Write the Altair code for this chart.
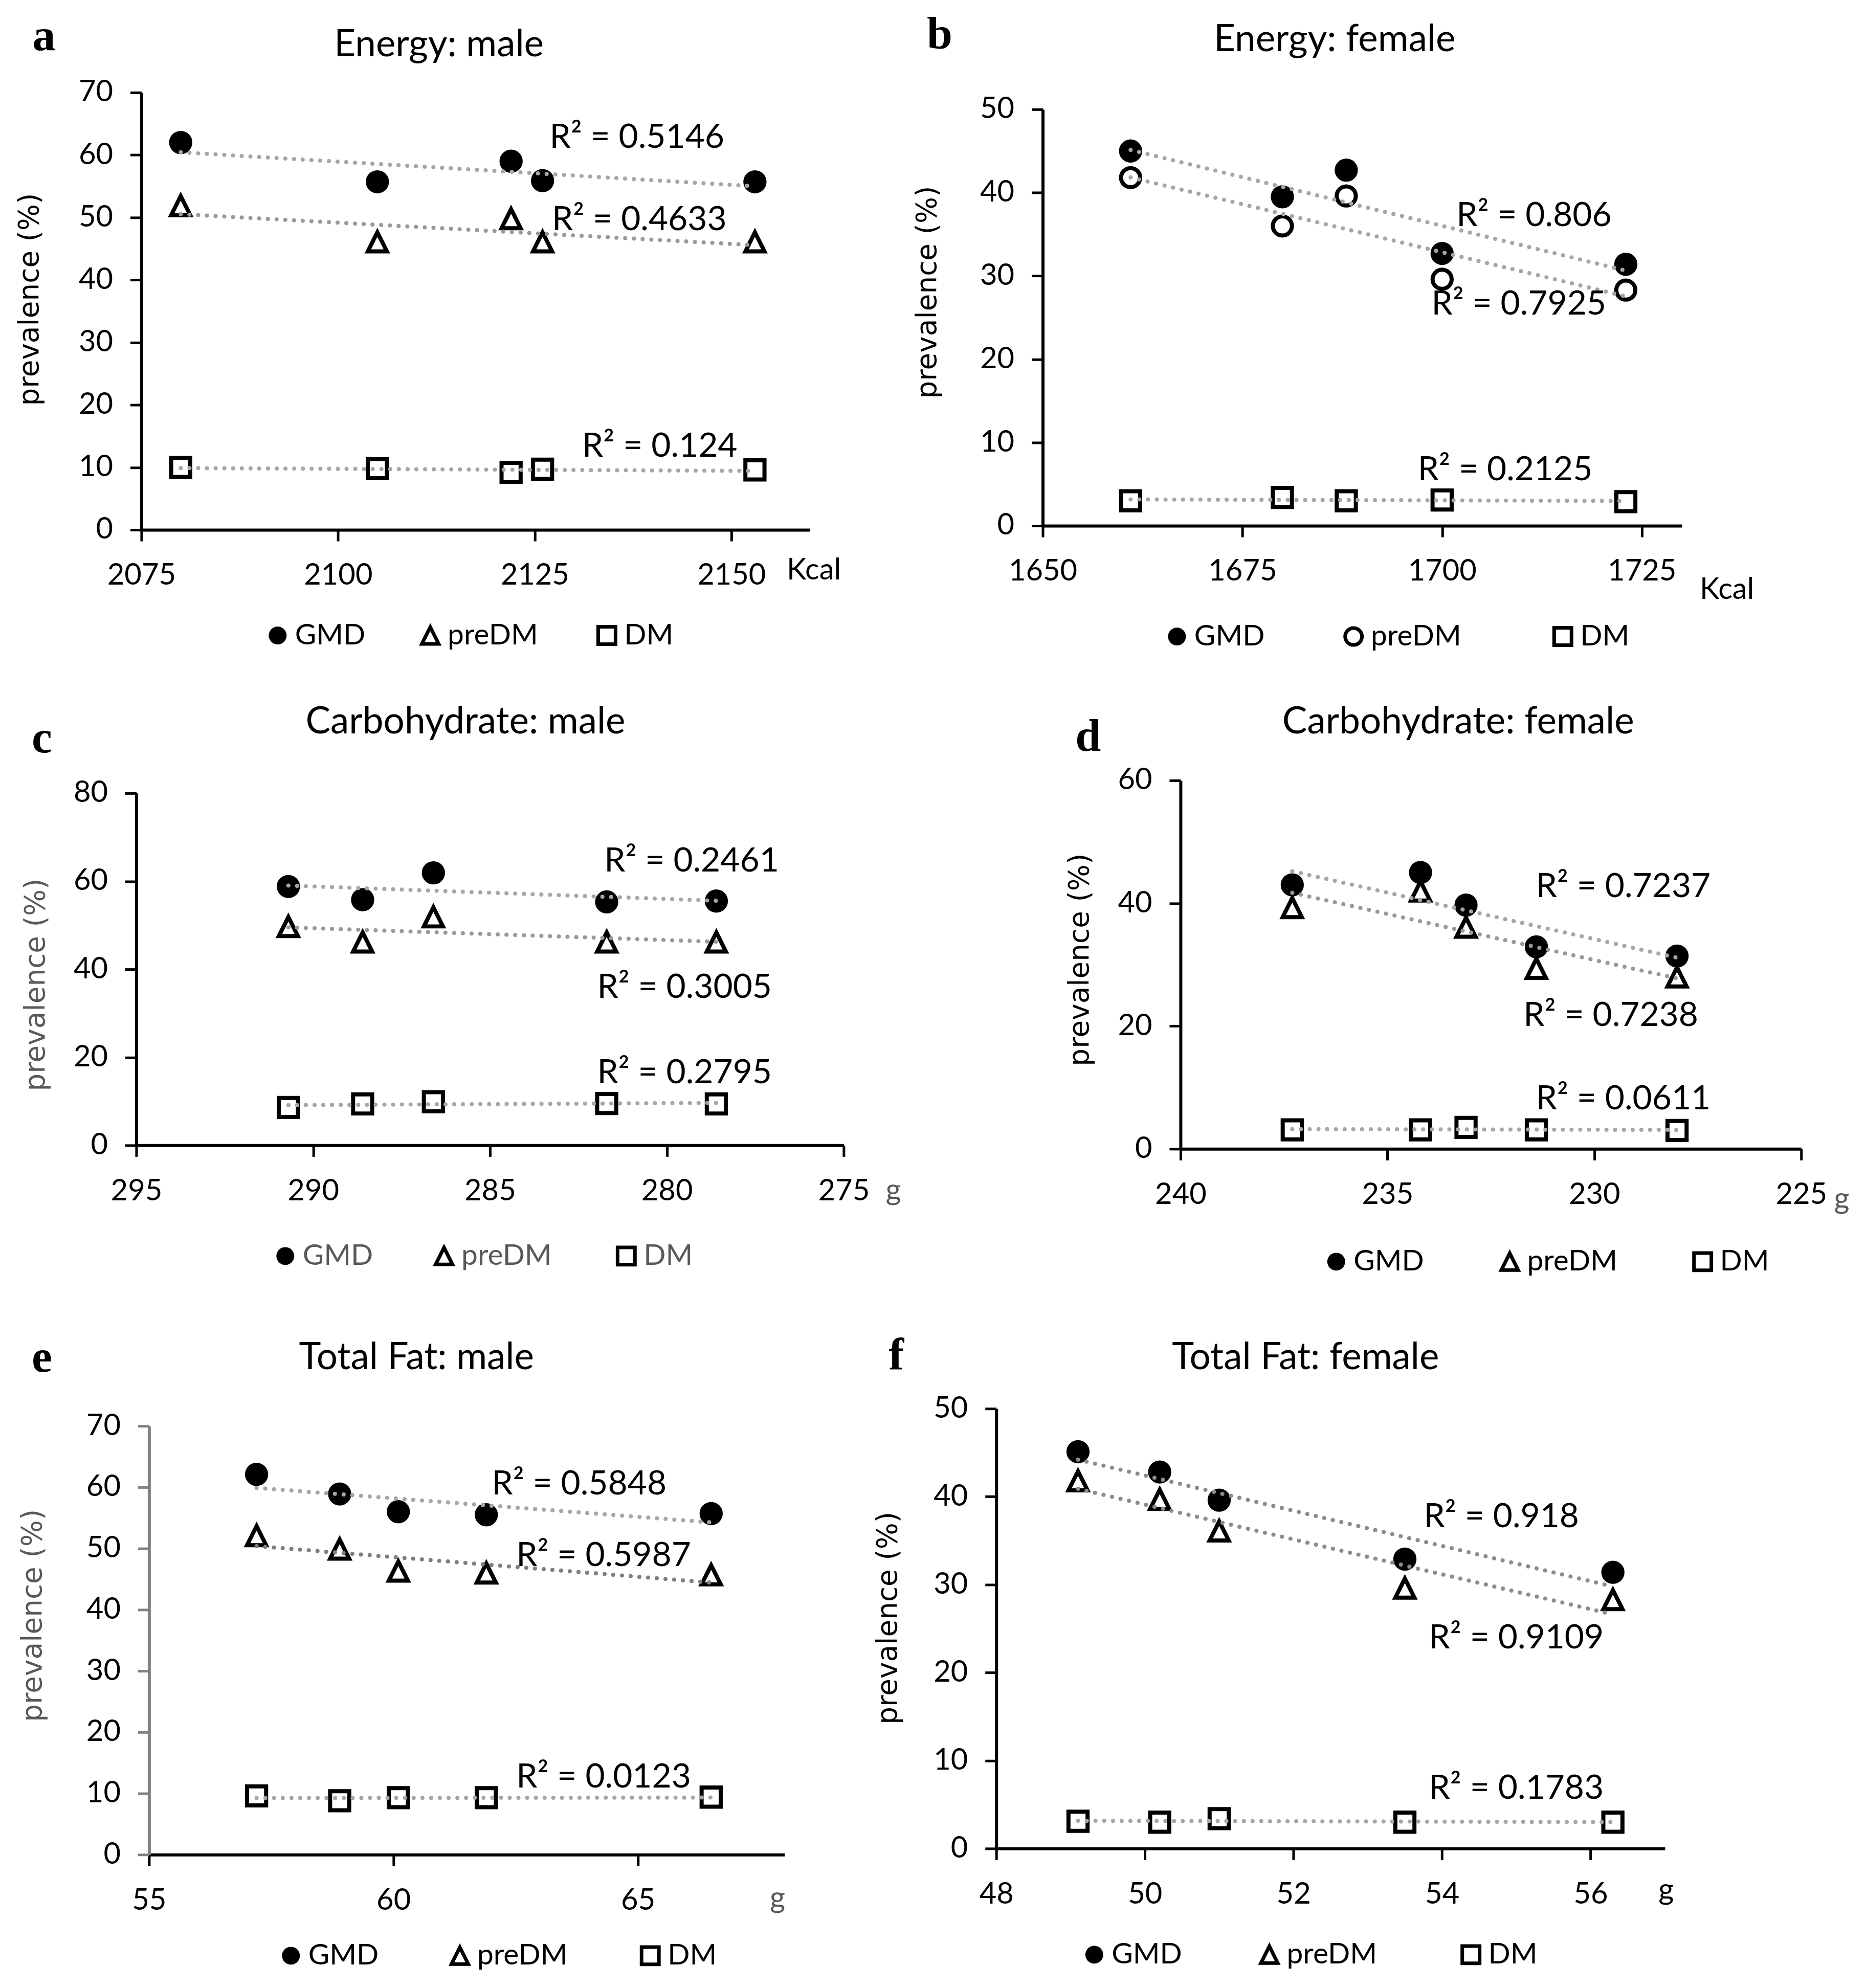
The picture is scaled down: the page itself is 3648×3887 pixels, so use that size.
import pandas as pd
import altair as alt

SERIES = ['GMD', 'preDM', 'DM']
R2_PREFIX = 'R² = '

# a  Energy: male (Kcal)
a_x = [2080, 2105, 2122, 2126, 2153]
a_gmd = [62.0, 55.7, 59.0, 55.9, 55.7]
a_pre = [51.9, 46.1, 49.8, 46.1, 46.1]
a_dm = [10.0, 9.8, 9.2, 9.7, 9.6]
a_r2 = ['0.5146', '0.4633', '0.124']

# b  Energy: female (Kcal)
b_x = [1661, 1680, 1688, 1700, 1723]
b_gmd = [45.0, 39.5, 42.7, 32.7, 31.4]
b_pre = [41.8, 36.0, 39.6, 29.6, 28.3]
b_dm = [3.0, 3.4, 3.0, 3.1, 2.9]
b_r2 = ['0.806', '0.7925', '0.2125']

# c  Carbohydrate: male (g)
c_x = [290.7, 288.6, 286.6, 281.7, 278.6]
c_gmd = [58.8, 55.8, 61.9, 55.3, 55.5]
c_pre = [49.7, 46.2, 51.9, 46.2, 46.2]
c_dm = [8.6, 9.4, 9.9, 9.5, 9.4]
c_r2 = ['0.2461', '0.3005', '0.2795']

# d  Carbohydrate: female (g)
d_x = [237.3, 234.2, 233.1, 231.4, 228.0]
d_gmd = [43.0, 45.0, 39.7, 32.9, 31.4]
d_pre = [39.3, 42.0, 36.1, 29.4, 28.0]
d_dm = [3.1, 3.1, 3.5, 3.1, 3.0]
d_r2 = ['0.7237', '0.7238', '0.0611']

# e  Total Fat: male (g)
e_x = [57.2, 58.9, 60.1, 61.9, 66.5]
e_gmd = [62.1, 58.9, 56.0, 55.5, 55.7]
e_pre = [52.1, 49.9, 46.3, 46.0, 45.7]
e_dm = [9.6, 8.8, 9.3, 9.3, 9.4]
e_r2 = ['0.5848', '0.5987', '0.0123']

# f  Total Fat: female (g)
f_x = [49.1, 50.2, 51.0, 53.5, 56.3]
f_gmd = [45.1, 42.8, 39.6, 32.9, 31.4]
f_pre = [41.8, 39.7, 36.1, 29.6, 28.3]
f_dm = [3.1, 3.0, 3.4, 3.0, 3.0]
f_r2 = ['0.918', '0.9109', '0.1783']

GRAY_TXT = '#595959'
TRI = 'M0,-1L1,1L-1,1Z'
TXT = 'Lato'

# every panel sits in an equal cell; the plot area is placed at (dx, dy) inside it
CELL_W, CELL_H = 1820, 1293

# layout / style of each panel (pixels relative to the plot area)
panels = {
    'a': dict(title='Energy: male', dx=269, dy=169, w=1310, h=857,
              xdom=[2075, 2160], xticks=[2075, 2100, 2125, 2150],
              ydom=[0, 70], yticks=list(range(0, 71, 10)), unit='Kcal', unit_xy=(1317, 80),
              title_xy=(583, -93), letter_xy=(-191, -110), ytitle_xy=(-219, 405),
              key_x=[267, 566, 912], key_y=1064,
              r2_x=[2138.0, 2138.3, 2140.9], r2_y=[62.8, 49.6, 13.3]),
    'b': dict(title='Energy: female', dx=215, dy=202, w=1252, h=816,
              xdom=[1650, 1730], xticks=[1650, 1675, 1700, 1725],
              ydom=[0, 50], yticks=list(range(0, 51, 10)), unit='Kcal', unit_xy=(1340, 126),
              title_xy=(572, -136), letter_xy=(-202, -146), ytitle_xy=(-226, 358),
              key_x=[263, 609, 1019], key_y=1033,
              r2_x=[1711.5, 1709.6, 1707.9], r2_y=[37.2, 26.6, 6.7], pre_shape='circle',
              lines=['#a6a6a6', '#a6a6a6', '#a6a6a6']),
    'c': dict(title='Carbohydrate: male', dx=259, dy=249, w=1386, h=690,
              xdom=[275, 295], xticks=[295, 290, 285, 280, 275], reverse=True,
              ydom=[0, 80], yticks=[0, 20, 40, 60, 80], unit='g', unit_xy=(1483, 89),
              unit_color=GRAY_TXT, ytitle_color=GRAY_TXT, legend_color=GRAY_TXT,
              title_xy=(645, -139), letter_xy=(-185, -107), ytitle_xy=(-197, 375),
              key_x=[292, 603, 960], key_y=907,
              r2_x=[279.3, 279.5, 279.5], r2_y=[64.5, 35.8, 16.4]),
    'd': dict(title='Carbohydrate: female', dx=485, dy=224, w=1216, h=722,
              xdom=[225, 240], xticks=[240, 235, 230, 225], reverse=True,
              ydom=[0, 60], yticks=[0, 20, 40, 60], unit='g', unit_xy=(1295, 99),
              unit_color=GRAY_TXT,
              title_xy=(544, -114), letter_xy=(-181, -85), ytitle_xy=(-198, 351),
              key_x=[305, 645, 1023], key_y=943,
              r2_x=[229.3, 229.6, 229.3], r2_y=[42.7, 21.7, 8.1]),
    'e': dict(title='Total Fat: male', dx=284, dy=196, w=1245, h=840,
              xdom=[55, 68], xticks=[55, 60, 65],
              ydom=[0, 70], yticks=list(range(0, 71, 10)), unit='g', unit_xy=(1231, 86),
              unit_color=GRAY_TXT, ytitle_color=GRAY_TXT, yaxis_color='#808080',
              title_xy=(524, -133), letter_xy=(-210, -133), ytitle_xy=(-228, 371),
              key_x=[278, 609, 982], key_y=1038,
              r2_x=[63.8, 64.3, 64.3], r2_y=[60.5, 48.8, 12.6],
              lines=['#a6a6a6', '#7f7f7f', '#a6a6a6']),
    'f': dict(title='Total Fat: female', dx=124, dy=162, w=1310, h=862,
              xdom=[48, 57], xticks=[48, 50, 52, 54, 56],
              ydom=[0, 50], yticks=list(range(0, 51, 10)), unit='g', unit_xy=(1312, 82),
              title_xy=(606, -99), letter_xy=(-196, -104), ytitle_xy=(-213, 410),
              key_x=[192, 535, 930], key_y=1070,
              r2_x=[54.8, 55.0, 55.0], r2_y=[37.7, 23.9, 6.8],
              lines=['#8c8c8c', '#8c8c8c', '#a6a6a6']),
}


def one_row():
    return pd.DataFrame({'k': [0]})


def legend_layers(cfg, shapes, fills):
    """Key below the plot: symbol + label for every series."""
    dx, dy = cfg['dx'], cfg['dy']
    key_sizes = {'circle': 1089, 'square': 1156, TRI: 1089}
    out = []
    for name, kx, shp, fil in zip(SERIES, cfg['key_x'], shapes, fills):
        size = 1225 if fil == 'black' else key_sizes[shp]
        sym = alt.Chart(one_row()).mark_point(
            shape=shp, filled=True, fill=fil, stroke='black', strokeWidth=0 if fil == 'black' else 7,
            size=size, opacity=1,
        ).encode(x=alt.value(dx + kx), y=alt.value(dy + cfg['key_y']))
        txt = alt.Chart(one_row()).mark_text(
            font=TXT, fontSize=57, color=cfg.get('legend_color', 'black'), align='left', baseline='middle',
        ).encode(x=alt.value(dx + kx + 34), y=alt.value(dy + cfg['key_y']), text=alt.value(name))
        out += [sym, txt]
    return out


def make_panel(key, xs, gmd, pre, dm, r2):
    cfg = panels[key]
    dx, dy, w, h = cfg['dx'], cfg['dy'], cfg['w'], cfg['h']
    df = pd.DataFrame({
        'x': xs * 3,
        'y': gmd + pre + dm,
        'series': [s for s in SERIES for _ in xs],
    })
    shapes = ['circle', cfg.get('pre_shape', TRI), 'square']
    fills = ['black', 'white', 'white']
    yax_color = cfg.get('yaxis_color', 'black')
    xrange = [dx + w, dx] if cfg.get('reverse') else [dx, dx + w]

    x_enc = alt.X('x:Q',
                  scale=alt.Scale(domain=cfg['xdom'], range=xrange, nice=False, zero=False),
                  axis=alt.Axis(values=cfg['xticks'], format='d', title=cfg['unit'],
                                offset=-(CELL_H - dy - h),
                                titleX=dx + cfg['unit_xy'][0], titleY=cfg['unit_xy'][1], titleAngle=0,
                                titleAlign='center', titleBaseline='middle',
                                titleColor=cfg.get('unit_color', 'black')))
    y_enc = alt.Y('y:Q',
                  scale=alt.Scale(domain=cfg['ydom'], range=[dy + h, dy], nice=False, zero=True),
                  axis=alt.Axis(values=cfg['yticks'], title='prevalence (%)', offset=-dx,
                                titleX=cfg['ytitle_xy'][0], titleY=dy + cfg['ytitle_xy'][1], titleAngle=-90,
                                titleAlign='center', titleBaseline='middle',
                                titleFont='DejaVu Sans', titleFontSize=55,
                                titleColor=cfg.get('ytitle_color', 'black'),
                                domainColor=yax_color, tickColor=yax_color))

    base = alt.Chart(df)
    pts = base.mark_point(opacity=1, filled=False, stroke='black', strokeWidth=8, size=1400).encode(
        x=x_enc, y=y_enc,
        shape=alt.Shape('series:N', scale=alt.Scale(domain=SERIES, range=shapes), legend=None),
        fill=alt.Fill('series:N', scale=alt.Scale(domain=SERIES, range=fills), legend=None),
    )
    trend = (
        base.transform_regression('x', 'y', groupby=['series'])
        .transform_calculate(line='datum.series')
        .mark_line(strokeWidth=8, strokeDash=[0.1, 17], strokeCap='round')
        .encode(
            x='x:Q', y='y:Q',
            stroke=alt.Stroke('line:N',
                              scale=alt.Scale(domain=SERIES,
                                              range=cfg.get('lines', ['#a6a6a6', '#999999', '#a6a6a6'])),
                              legend=None),
        )
    )
    labels = alt.Chart(pd.DataFrame({
        'x': cfg['r2_x'], 'y': cfg['r2_y'], 't': [R2_PREFIX + v for v in r2],
    })).mark_text(font=TXT, fontSize=66, color='black', align='center', baseline='middle').encode(
        x='x:Q', y='y:Q', text='t:N')
    title = alt.Chart(one_row()).mark_text(font=TXT, fontSize=73, color='black', align='center',
                                           baseline='middle').encode(
        x=alt.value(dx + cfg['title_xy'][0]), y=alt.value(dy + cfg['title_xy'][1]),
        text=alt.value(cfg['title']))
    letter = alt.Chart(one_row()).mark_text(font='Liberation Serif', fontWeight='bold', fontSize=90,
                                            color='black', align='center', baseline='middle').encode(
        x=alt.value(dx + cfg['letter_xy'][0]), y=alt.value(dy + cfg['letter_xy'][1]), text=alt.value(key))

    layers = [pts, trend, labels, title, letter] + legend_layers(cfg, shapes, fills)
    return alt.layer(*layers).properties(width=CELL_W, height=CELL_H)


A = make_panel('a', a_x, a_gmd, a_pre, a_dm, a_r2)
B = make_panel('b', b_x, b_gmd, b_pre, b_dm, b_r2)
C = make_panel('c', c_x, c_gmd, c_pre, c_dm, c_r2)
D = make_panel('d', d_x, d_gmd, d_pre, d_dm, d_r2)
E = make_panel('e', e_x, e_gmd, e_pre, e_dm, e_r2)
F = make_panel('f', f_x, f_gmd, f_pre, f_dm, f_r2)

chart = (
    alt.concat(A, B, C, D, E, F, columns=2, spacing=0, bounds='flush')
    .resolve_scale(shape='independent', fill='independent', stroke='independent')
    .properties(padding=0)
    .configure_view(strokeWidth=0)
    .configure_axis(
        grid=False,
        labelFont=TXT, labelFontSize=58, labelColor='black',
        domainColor='black', domainWidth=6, tickColor='black', tickWidth=5, tickSize=22,
        titleFontWeight='normal', titleFont=TXT, titleFontSize=58,
    )
    .configure_axisX(labelPadding=39, labelFlush=False)
    .configure_axisY(labelPadding=34)
)

chart.save('out.html', embed_options={'renderer': 'svg', 'actions': False})
